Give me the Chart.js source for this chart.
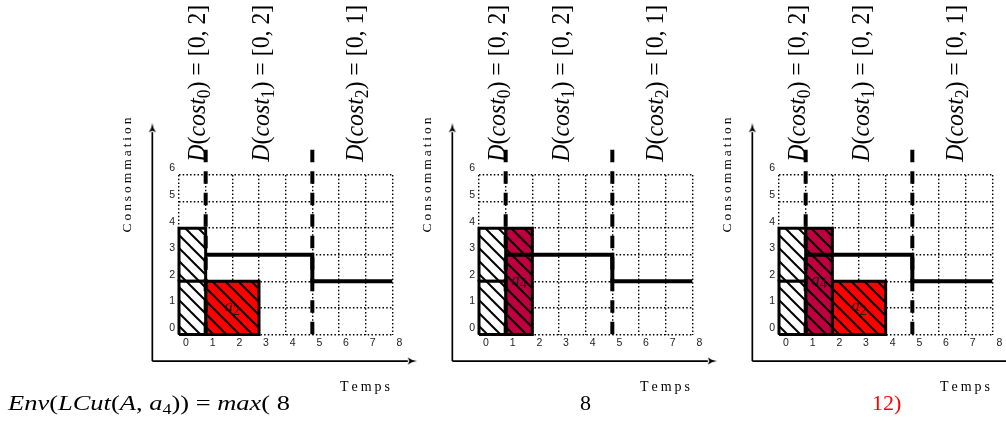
<!DOCTYPE html>
<html><head><meta charset="utf-8">
<script src="https://cdn.jsdelivr.net/npm/chart.js@4.4.1/dist/chart.umd.min.js"></script>
<style>
html,body{margin:0;padding:0;background:#fff}
body{width:1006px;height:428px;overflow:hidden;position:relative}
canvas.panel{position:absolute;top:0}
.math{position:absolute;top:392px;font-family:"Liberation Serif",serif;font-size:22px;line-height:22px;white-space:nowrap;color:#000;transform-origin:0 50%}
.math sub{font-size:15px;vertical-align:-4px;line-height:0}
</style></head><body>
<canvas class="panel" id="p0" width="330" height="428" style="left:100px"></canvas>
<canvas class="panel" id="p1" width="330" height="428" style="left:400px"></canvas>
<canvas class="panel" id="p2" width="330" height="428" style="left:700px"></canvas>
<div class="math" id="m0" style="left:8px"></div>
<div class="math" id="m1" style="left:580px"></div>
<div class="math" id="m2" style="left:872px;color:#ff0000"></div>
<script>
// ---------- data ----------
const timeRange = [0, 8];
const consRange = [0, 6];
const initialRects = [[0, 1, 0, 2], [0, 1, 2, 4]];   // [t0, t1, c0, c1]
const a2Rect = [1, 3, 0, 2];
const a4Rect = [1, 2, 0, 4];
const a2ShiftedRect = [2, 4, 0, 2];
const capacityTimes = [1, 5, 5, 8];
const capacityLevels = [3, 3, 2, 2];
const costCuts = [1, 5];
const cutTop = 6.95;
const costDomains = ['[0, 2]', '[0, 2]', '[0, 1]'];
const envValues = ['8', '8', '12'];
const axisOrigin = [-1, -1];
const axisEnds = [8.58, 7.61];

// ---------- helpers ----------
Chart.defaults.animation = false;
const SERIF = '"Liberation Serif", "Times New Roman", serif';

function hatch(bg) {
  const s = 13, c = document.createElement('canvas');
  c.width = s; c.height = s;
  const g = c.getContext('2d');
  g.fillStyle = bg; g.fillRect(0, 0, s, s);
  g.strokeStyle = '#000'; g.lineWidth = 2;
  for (const k of [-1, 0, 1]) {
    g.beginPath(); g.moveTo(k * s - 2, -2); g.lineTo(k * s + s + 2, s + 2); g.stroke();
  }
  return g.createPattern(c, 'repeat');
}
function arrowHead() {
  const c = document.createElement('canvas');
  c.width = 10; c.height = 18;
  const g = c.getContext('2d');
  g.fillStyle = '#000';
  g.beginPath();
  g.moveTo(5, 0);
  g.quadraticCurveTo(5.6, 5, 8.6, 9);
  g.lineTo(5, 7.6);
  g.lineTo(1.4, 9);
  g.quadraticCurveTo(4.4, 5, 5, 0);
  g.closePath(); g.fill();
  return c;
}
const HEAD = arrowHead();

function rectDataset(r, fillStyle) {
  const [x0, x1, y0, y1] = r;
  return {
    data: [{x: x0, y: y0}, {x: x1, y: y0}, {x: x1, y: y1}, {x: x0, y: y1}, {x: x0, y: y0}],
    borderColor: '#000', borderWidth: 3, backgroundColor: fillStyle, fill: 'shape',
    pointRadius: 0, tension: 0, borderJoinStyle: 'miter', clip: false, order: 10
  };
}

function spread(ctx, str, x, y, len) {
  const chars = [...str];
  const w = chars.reduce((s, ch) => s + ctx.measureText(ch).width, 0);
  const gap = chars.length > 1 ? (len - w) / (chars.length - 1) : 0;
  let cx = x;
  for (const ch of chars) { ctx.fillText(ch, cx, y); cx += ctx.measureText(ch).width + gap; }
}

const costBaseX = [0.975, 3.375, 6.9];

function makeLabels(panel) {
  return {
    id: 'panelLabels',
    afterDatasetsDraw(chart) {
      const {ctx} = chart;
      const xs = chart.scales.x, ys = chart.scales.y;
      const X = v => xs.getPixelForValue(v), Y = v => ys.getPixelForValue(v);
      ctx.save();
      ctx.fillStyle = '#000';
      ctx.textAlign = 'left';
      // axis titles
      ctx.textBaseline = 'middle';
      ctx.font = '14px ' + SERIF;
      spread(ctx, 'Temps', X(7.91) - 50, Y(-2), 50);
      ctx.font = '13.5px ' + SERIF;
      ctx.save();
      ctx.translate(X(-1.95), Y(6));
      ctx.rotate(-Math.PI / 2);
      spread(ctx, 'Consommation', -57.5, 0, 115);
      ctx.restore();
      // cost domain labels
      ctx.textBaseline = 'alphabetic';
      costDomains.forEach((dom, i) => {
        const parts = [
          {t: 'D', f: 'italic 26px ' + SERIF, dy: 0},
          {t: '(', f: '26px ' + SERIF, dy: 0},
          {t: 'cost', f: 'italic 26px ' + SERIF, dy: 0},
          {t: String(i), f: '19px ' + SERIF, dy: 5},
          {t: ')', f: '26px ' + SERIF, dy: 0},
          {t: ' = ' + dom, f: '26px ' + SERIF, dy: 0}
        ];
        let w = 0;
        parts.forEach(p => { ctx.font = p.f; p.w = ctx.measureText(p.t).width; w += p.w; });
        ctx.save();
        ctx.translate(X(costBaseX[i]), Y(6.5));
        ctx.rotate(-Math.PI / 2);
        ctx.scale(157 / w, 1);
        let cx = 0;
        parts.forEach(p => { ctx.font = p.f; ctx.fillText(p.t, cx, p.dy); cx += p.w; });
        ctx.restore();
      });
      // activity labels
      ctx.fillStyle = '#1a1a1a';
      ctx.textBaseline = 'middle';
      panel.acts.forEach(a => {
        const [x0, x1, y0, y1] = a.r;
        const cx = X((x0 + x1) / 2), cy = Y((y0 + y1) / 2);
        ctx.font = 'italic 17px ' + SERIF;
        const wa = ctx.measureText('a').width;
        ctx.font = '14px ' + SERIF;
        const wn = ctx.measureText(a.name).width;
        const sx = cx - (wa + wn) / 2;
        ctx.font = 'italic 17px ' + SERIF;
        ctx.fillText('a', sx, cy - 1);
        ctx.font = '14px ' + SERIF;
        ctx.fillText(a.name, sx + wa, cy + 3);
      });
      ctx.restore();
    }
  };
}

const panels = [
  {acts: [{r: a2Rect, color: '#FF0000', name: '2'}]},
  {acts: [{r: a4Rect, color: '#BF0040', name: '4'}]},
  {acts: [{r: a4Rect, color: '#BF0040', name: '4'}, {r: a2ShiftedRect, color: '#FF0000', name: '2'}]}
];

panels.forEach((panel, pi) => {
  const datasets = [];
  initialRects.forEach(r => datasets.push(rectDataset(r, hatch('#ffffff'))));
  panel.acts.forEach(a => datasets.push(rectDataset(a.r, hatch(a.color))));
  datasets.push({
    data: capacityTimes.map((t, i) => ({x: t, y: capacityLevels[i]})),
    borderColor: '#000', borderWidth: 4, pointRadius: 0, fill: false,
    borderJoinStyle: 'miter', clip: false, order: 5
  });
  costCuts.forEach(t => datasets.push({
    data: [{x: t, y: cutTop}, {x: t, y: 0}],
    borderColor: '#000', borderWidth: 4, borderDash: [12.5, 9], borderCapStyle: 'butt',
    pointRadius: 0, fill: false, clip: false, order: 3
  }));
  datasets.push({
    data: [{x: axisOrigin[0], y: axisOrigin[1]}, {x: axisOrigin[0], y: axisEnds[1]}],
    borderColor: '#000', borderWidth: 1.7, fill: false, clip: false, order: 1,
    pointRadius: [0, 60], pointStyle: HEAD, pointRotation: 0, pointBorderWidth: 0
  });
  datasets.push({
    data: [{x: axisOrigin[0], y: axisOrigin[1]}, {x: axisEnds[0], y: axisOrigin[1]}],
    borderColor: '#000', borderWidth: 1.7, fill: false, clip: false, order: 1,
    pointRadius: [0, 60], pointStyle: HEAD, pointRotation: 90, pointBorderWidth: 0
  });

  const tickFont = {family: '"Liberation Sans", Arial, sans-serif', size: 10.5};
  new Chart(document.getElementById('p' + pi), {
    type: 'line',
    data: {datasets},
    options: {
      responsive: false,
      events: [],
      layout: {autoPadding: false, padding: {left: 59, right: 37.67, top: 175, bottom: 73.5}},
      plugins: {legend: {display: false}, tooltip: {enabled: false}},
      scales: {
        x: {
          type: 'linear',
          afterDataLimits: s => { s.min = timeRange[0]; s.max = timeRange[1]; },
          afterFit: s => { s.height = 20; s.paddingLeft = 0; s.paddingRight = 0; },
          ticks: {stepSize: 1, labelOffset: 7, padding: 2.5, color: '#222', font: tickFont, maxRotation: 0, autoSkip: false},
          grid: {color: '#000', lineWidth: 1.4, drawTicks: false},
          border: {display: false, dash: [1.5, 2.2]}
        },
        y: {
          type: 'linear',
          afterDataLimits: s => { s.min = consRange[0]; s.max = consRange[1]; },
          afterFit: s => { s.width = 20; s.paddingTop = 0; s.paddingBottom = 0; },
          ticks: {stepSize: 1, labelOffset: -6.5, padding: 4, color: '#222', font: tickFont, autoSkip: false},
          grid: {color: '#000', lineWidth: 1.4, drawTicks: false},
          border: {display: false, dash: [1.5, 2.2]}
        }
      }
    },
    plugins: [makeLabels(panel)]
  });
});

const m0 = document.getElementById('m0');
m0.innerHTML = '<i>Env</i>(<i>LCut</i>(<i>A</i>, <i>a</i><sub>4</sub>)) = <i>max</i>( ' + envValues[0];
m0.style.transform = 'scaleX(' + (282 / m0.getBoundingClientRect().width).toFixed(3) + ')';
document.getElementById('m1').innerHTML = envValues[1];
document.getElementById('m2').innerHTML = envValues[2] + ')';
</script>
</body></html>
